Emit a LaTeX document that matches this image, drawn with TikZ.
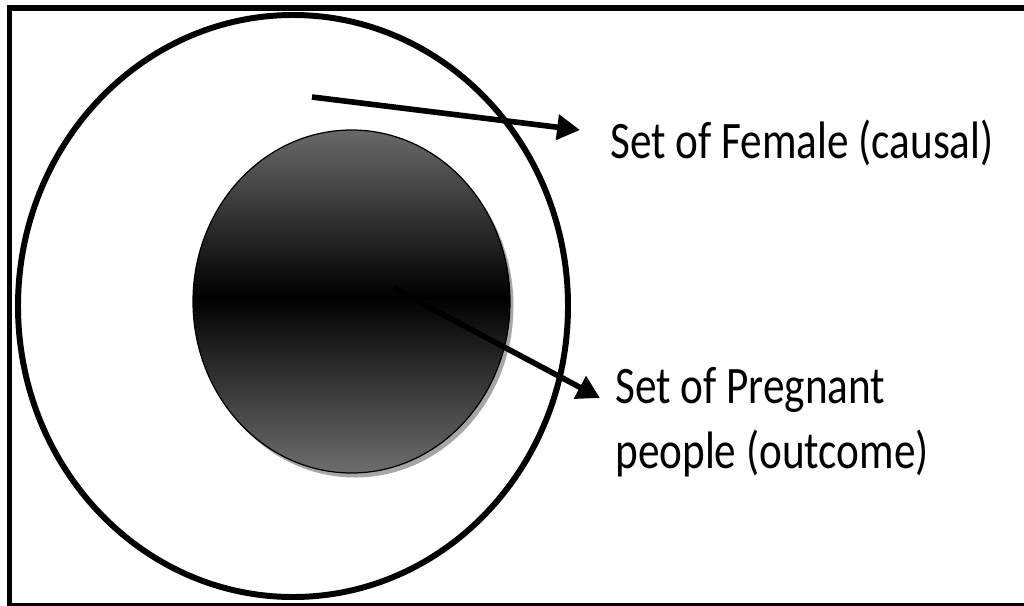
\documentclass[tikz,border=0pt]{standalone}
\usepackage{fontspec}
\setmainfont[FakeStretch=0.82]{Carlito}
\usetikzlibrary{arrows.meta}
\tikzset{
  setlabel/.style={font=\fontsize{30}{37}\selectfont,inner sep=0pt,align=left},
  setarrow/.style={line width=3.2pt,-{Triangle[length=13pt,width=14pt]}}
}
\begin{document}
\begin{tikzpicture}[x=0.02cm,y=-0.02cm]
\useasboundingbox (0,0) rectangle (1024,605);
\fill[white] (0,0) rectangle (1024,605);
\draw[line width=3.4pt] (9.5,8) rectangle (1040,605.5);
% set of female
\draw[line width=3.4pt] (293,306) ellipse (275 and 291);
% set of pregnant people, shaded with a small shadow
\fill[black!35] (355,306) ellipse (158.5 and 171.5);
\begin{scope}
\clip (351.5,301.5) ellipse (158.5 and 171.5);
\foreach \y in {128,132,...,476}{
  \pgfmathsetmacro{\shadepc}{100-42*min(abs(\y+2-298)/172,1)}
  \fill[black!\shadepc] (190,\y) rectangle (515,\y+4.6);
}
\end{scope}
\draw[line width=0.7pt] (351.5,301.5) ellipse (158.5 and 171.5);
\node[setlabel,anchor=base west] (female) at (610,158) {Set of Female (causal)};
\node[setlabel,anchor=north west] (pregnant) at (615,367) {Set of Pregnant\\people (outcome)};
\coordinate (femstart) at (312,97);
\coordinate (femtip) at (580,130);
\coordinate (pregstart) at (393,288);
\coordinate (pregtip) at (600,398);
\draw[setarrow] (femstart) -- (femtip);
\draw[setarrow] (pregstart) -- (pregtip);
\end{tikzpicture}
\end{document}
